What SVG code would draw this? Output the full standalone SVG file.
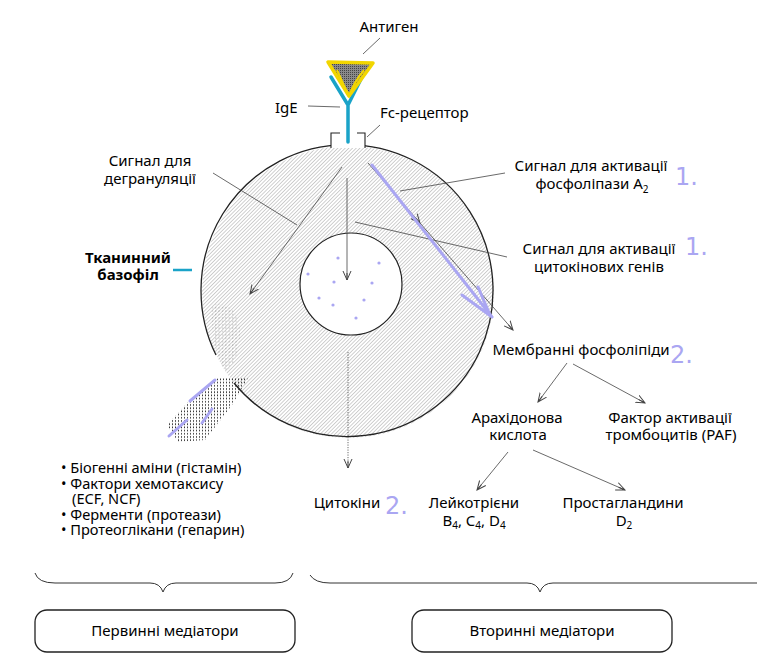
<svg xmlns="http://www.w3.org/2000/svg" width="757" height="662" viewBox="0 0 757 662">
<style>
text{font-family:"Noto Sans","Open Sans","Liberation Sans",sans-serif;fill:#000;}
.t{font-size:15px;}
.l{font-size:14.6px;}
.c{text-anchor:middle;}
.b{font-weight:bold;}
.hand{font-family:"DejaVu Sans","Liberation Sans",sans-serif;font-weight:normal;fill:#aaa6f2;font-size:24px;}
.ln{stroke:#444;stroke-width:0.8;fill:none;}
.ar{stroke:#444;stroke-width:0.8;fill:none;marker-end:url(#ah);}
.pu{stroke:#aaa6f2;stroke-width:3;fill:none;stroke-linecap:round;}
.box{fill:#fff;stroke:#222;stroke-width:1.3;}
.brace{fill:none;stroke:#333;stroke-width:1;}
</style>
<defs>
<pattern id="hatch" width="2.6" height="2.6" patternUnits="userSpaceOnUse" patternTransform="rotate(45)">
<line x1="0" y1="0" x2="0" y2="2.6" stroke="#8a8a8a" stroke-width="0.8"/>
</pattern>
<pattern id="dots" width="3" height="3.2" patternUnits="userSpaceOnUse">
<rect x="1" y="1" width="1" height="1.6" fill="#333"/>
</pattern>
<pattern id="dotsl" width="3.4" height="3.4" patternUnits="userSpaceOnUse">
<rect x="1" y="1" width="1" height="1.4" fill="#555"/>
</pattern>
<pattern id="ag" width="2" height="2" patternUnits="userSpaceOnUse">
<rect width="2" height="2" fill="#8a8a8a"/>
<rect x="0" y="0" width="1" height="1" fill="#444"/>
</pattern>
<marker id="ah" viewBox="0 0 10 10" refX="9" refY="5" markerWidth="10" markerHeight="10" markerUnits="userSpaceOnUse" orient="auto">
<path d="M0,1 L9,5 L0,9 M2,5 L9,5" fill="none" stroke="#444" stroke-width="1"/>
</marker>
</defs>
<rect width="757" height="662" fill="#fff"/>

<g id="cell">
<circle cx="348" cy="292" r="146" fill="url(#hatch)" stroke="none"/>
<path d="M234,383 A146,146 0 1 0 216,355" fill="none" stroke="#222" stroke-width="1.3"/>
<path d="M212,305 Q236,300 240,330 Q240,362 225,372 Q210,345 212,305 Z" fill="url(#dotsl)" opacity="0.35"/>
<polygon points="218,378 248,378 232,405 205,440 178,442 167,425 190,400" fill="url(#dots)"/>
<circle cx="351" cy="284" r="51" fill="#fff" stroke="#222" stroke-width="1.2"/>
<g fill="#aaa6f2">
<circle cx="338" cy="258" r="1.6"/><circle cx="379" cy="263" r="1.6"/><circle cx="308" cy="274" r="1.6"/>
<circle cx="334" cy="282" r="1.6"/><circle cx="372" cy="283" r="1.6"/><circle cx="319" cy="298" r="1.6"/>
<circle cx="333" cy="305" r="1.6"/><circle cx="364" cy="300" r="1.6"/><circle cx="356" cy="318" r="1.6"/>
</g>
</g>

<g id="fc-receptor">
<rect x="331" y="133" width="34" height="15" fill="#fff"/>
<path d="M331,148 L331,133 L340,133 M357,133 L365,133 L365,148" fill="none" stroke="#222" stroke-width="1.1"/>
</g>

<g id="ige">
<path d="M348,142 L348,105 M348,105 L331,77 M348,105 L362,77" fill="none" stroke="#1aa3c8" stroke-width="3.5" stroke-linecap="round" stroke-linejoin="round"/>
</g>

<g id="antigen">
<path d="M328,62 L373,63 L349,96 Z" fill="url(#ag)" stroke="#f2d600" stroke-width="3.5" stroke-linejoin="round"/>
<path d="M337,70 Q345,88 349,96 Q354,82 364,70" fill="none" stroke="#f2d600" stroke-width="2"/>
</g>

<g id="connectors">
<line class="ln" x1="380" y1="38" x2="363" y2="54"/>
<line class="ln" x1="308" y1="106" x2="340" y2="107"/>
<line class="ln" x1="380" y1="125" x2="367" y2="137"/>
<line class="ln" x1="213" y1="173" x2="297" y2="225"/>
<line class="ar" x1="342" y1="167" x2="250" y2="294"/>
<line class="ar" x1="347" y1="178" x2="347" y2="280"/>
<line class="ar" x1="348" y1="352" x2="348" y2="468" stroke-dasharray="1.2 1.3"/>
<line class="ln" x1="400" y1="191" x2="505" y2="173"/>
<line class="ln" x1="355" y1="222" x2="507" y2="257"/>
<line class="ar" x1="368" y1="163" x2="420" y2="223"/>
<line class="ar" x1="420" y1="223" x2="513" y2="330"/>
<line class="ar" x1="567" y1="363" x2="538" y2="402"/>
<line class="ar" x1="573" y1="364" x2="645" y2="403"/>
<line class="ar" x1="508" y1="452" x2="477" y2="490"/>
<line class="ar" x1="533" y1="450" x2="625" y2="490"/>
<line x1="173" y1="270" x2="192" y2="270" stroke="#1aa3c8" stroke-width="2.5"/>
</g>

<g id="annotations">
<path class="pu" d="M372,165 L492,317 M462,295 L492,317 M478,287 L490,315"/>
<path class="pu" d="M215,380 L190,401 M212,409 L202,423 M187,420 L169,436" stroke-width="2.5"/>
<text class="hand" x="675" y="185">1.</text>
<text class="hand" x="685" y="255">1.</text>
<text class="hand" x="670" y="363">2.</text>
<text class="hand" x="385" y="514">2.</text>
</g>

<g id="labels">
<text class="t c" x="389" y="32">Антиген</text>
<text class="t" x="275" y="113">IgE</text>
<text class="t" x="380" y="118">Fc-рецептор</text>
<text class="t c" x="150" y="166">Сигнал для</text>
<text class="t c" x="150" y="184">дегрануляції</text>
<text class="t c b" x="128" y="263">Тканинний</text>
<text class="t c b" x="128" y="280">базофіл</text>
<text class="t c" x="591" y="171">Сигнал для активації</text>
<text class="t c" x="592" y="189">фосфоліпази A<tspan font-size="10" dy="4">2</tspan></text>
<text class="t c" x="599" y="254">Сигнал для активації</text>
<text class="t c" x="599" y="272">цитокінових генів</text>
<text class="t c" x="581" y="355">Мембранні фосфоліпіди</text>
<text class="t c" x="517" y="423">Арахідонова</text>
<text class="t c" x="518" y="440">кислота</text>
<text class="t c" x="670" y="423">Фактор активації</text>
<text class="t c" x="671" y="440">тромбоцитів (PAF)</text>
<text class="t c" x="347" y="508">Цитокіни</text>
<text class="t c" x="474" y="508">Лейкотрієни</text>
<text class="t c" x="474" y="526">B<tspan font-size="10" dy="3">4</tspan><tspan dy="-3">, C</tspan><tspan font-size="10" dy="3">4</tspan><tspan dy="-3">, D</tspan><tspan font-size="10" dy="3">4</tspan></text>
<text class="t c" x="623" y="508">Простагландини</text>
<text class="t c" x="624" y="526">D<tspan font-size="10" dy="3">2</tspan></text>
</g>

<g id="primary-list">
<text class="l" x="61" y="473"><tspan x="61" y="473">• Біогенні аміни (гістамін)</tspan><tspan x="61" y="488.5">• Фактори хемотаксису</tspan><tspan x="72" y="504">(ECF, NCF)</tspan><tspan x="61" y="519.5">• Ферменти (протеази)</tspan><tspan x="61" y="535">• Протеоглікани (гепарин)</tspan></text>
</g>

<g id="braces">
<path class="brace" d="M35,573 Q38,583 55,583 L150,583 Q160,583 163,592 Q166,583 176,583 L275,583 Q290,583 293,573"/>
<path class="brace" d="M310,575 Q315,583 330,583 L527,583 Q537,583 540,592 Q543,583 553,583 L757,583"/>
</g>

<g id="primary-box">
<rect class="box" x="35" y="610" width="260" height="42" rx="12"/>
<text class="t c" x="165" y="636">Первинні медіатори</text>
</g>
<g id="secondary-box">
<rect class="box" x="412" y="610" width="260" height="42" rx="12"/>
<text class="t c" x="542" y="636">Вторинні медіатори</text>
</g>
</svg>
